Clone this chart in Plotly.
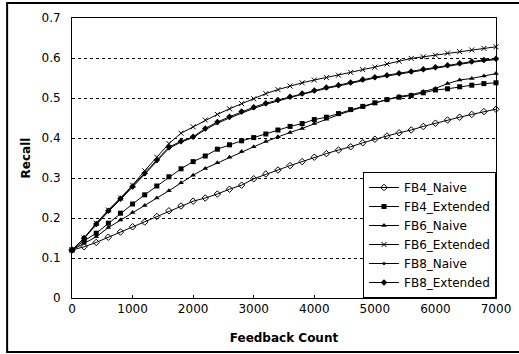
import plotly.graph_objects as go

# Feedback counts at which recall was measured
feedback_count = [0, 200, 400, 600, 800, 1000, 1200, 1400, 1600, 1800,
                  2000, 2200, 2400, 2600, 2800, 3000, 3200, 3400, 3600, 3800,
                  4000, 4200, 4400, 4600, 4800, 5000, 5200, 5400, 5600, 5800,
                  6000, 6200, 6400, 6600, 6800, 7000]

fb4_naive = [0.120, 0.128, 0.139, 0.152, 0.165, 0.178, 0.190, 0.204, 0.218, 0.230,
             0.242, 0.250, 0.260, 0.272, 0.282, 0.298, 0.310, 0.320, 0.331, 0.341,
             0.352, 0.361, 0.370, 0.378, 0.388, 0.397, 0.405, 0.413, 0.420, 0.429,
             0.437, 0.445, 0.452, 0.459, 0.466, 0.472]

fb4_extended = [0.120, 0.143, 0.162, 0.187, 0.212, 0.235, 0.258, 0.280, 0.303, 0.323,
                0.341, 0.355, 0.372, 0.383, 0.393, 0.401, 0.410, 0.420, 0.429, 0.436,
                0.446, 0.452, 0.461, 0.471, 0.479, 0.488, 0.496, 0.502, 0.506, 0.513,
                0.520, 0.523, 0.528, 0.532, 0.536, 0.538]

fb6_naive = [0.120, 0.137, 0.153, 0.176, 0.195, 0.214, 0.231, 0.250, 0.268, 0.288,
             0.307, 0.324, 0.338, 0.352, 0.366, 0.378, 0.391, 0.403, 0.414, 0.424,
             0.436, 0.447, 0.458, 0.468, 0.478, 0.487, 0.496, 0.504, 0.508, 0.516,
             0.524, 0.536, 0.545, 0.549, 0.555, 0.561]

fb6_extended = [0.120, 0.150, 0.187, 0.220, 0.250, 0.282, 0.318, 0.352, 0.386, 0.412,
                0.428, 0.445, 0.459, 0.473, 0.486, 0.498, 0.511, 0.521, 0.530, 0.538,
                0.545, 0.551, 0.557, 0.564, 0.571, 0.577, 0.585, 0.592, 0.599, 0.603,
                0.607, 0.612, 0.616, 0.620, 0.624, 0.628]

fb8_naive = [0.120, 0.149, 0.183, 0.216, 0.246, 0.277, 0.309, 0.342, 0.374, 0.390,
             0.401, 0.421, 0.437, 0.450, 0.463, 0.474, 0.484, 0.493, 0.501, 0.509,
             0.517, 0.524, 0.530, 0.537, 0.544, 0.550, 0.555, 0.560, 0.564, 0.570,
             0.575, 0.580, 0.585, 0.589, 0.593, 0.596]

fb8_extended = [0.120, 0.150, 0.185, 0.218, 0.248, 0.279, 0.312, 0.345, 0.377, 0.392,
                0.403, 0.424, 0.440, 0.453, 0.466, 0.477, 0.487, 0.495, 0.503, 0.511,
                0.519, 0.526, 0.532, 0.539, 0.546, 0.552, 0.557, 0.562, 0.566, 0.572,
                0.577, 0.582, 0.587, 0.591, 0.595, 0.598]

series = [
    ("FB4_Naive", fb4_naive, dict(symbol="diamond-open", size=5, line=dict(width=1))),
    ("FB4_Extended", fb4_extended, dict(symbol="square", size=5)),
    ("FB6_Naive", fb6_naive, dict(symbol="triangle-up", size=5)),
    ("FB6_Extended", fb6_extended, dict(symbol="x-thin-open", size=5, line=dict(width=1, color="black"))),
    ("FB8_Naive", fb8_naive, dict(symbol="circle", size=3)),
    ("FB8_Extended", fb8_extended, dict(symbol="diamond", size=5)),
]

fig = go.Figure()
for name, values, marker in series:
    marker = dict(marker)
    marker.setdefault("color", "black")
    fig.add_trace(go.Scatter(
        x=feedback_count, y=values, name=name, mode="lines+markers",
        line=dict(color="black", width=1), marker=marker, cliponaxis=False,
    ))

font_family = "DejaVu Sans"

fig.update_layout(
    width=519, height=354,
    margin=dict(l=72, r=23, t=18, b=56),
    paper_bgcolor="white", plot_bgcolor="white",
    font=dict(family=font_family, size=12, color="black"),
    showlegend=True,
    legend=dict(
        x=1, y=0, xanchor="right", yanchor="bottom",
        bgcolor="white", bordercolor="black", borderwidth=1,
        font=dict(family=font_family, size=12, color="black"),
        tracegroupgap=0, itemwidth=30,
    ),
    xaxis=dict(
        range=[0, 7000], tickvals=[0, 1000, 2000, 3000, 4000, 5000, 6000, 7000],
        showgrid=False, zeroline=False, automargin=False,
        showline=True, linecolor="black", linewidth=1, mirror=True,
        ticks="inside", ticklen=3, tickcolor="black",
        tickfont=dict(family=font_family, size=12),
        title=dict(text="<b>Feedback Count</b>", font=dict(family=font_family, size=12), standoff=18),
    ),
    yaxis=dict(
        range=[0, 0.7], tickvals=[0, 0.1, 0.2, 0.3, 0.4, 0.5, 0.6, 0.7],
        ticktext=["0", "0.1", "0.2", "0.3", "0.4", "0.5", "0.6", "0.7"],
        showgrid=True, gridcolor="black", gridwidth=1, griddash="dot",
        zeroline=False, automargin=False,
        showline=True, linecolor="black", linewidth=1, mirror=True,
        ticks="", ticklabelstandoff=8,
        tickfont=dict(family=font_family, size=12),
        title=dict(text="<b>Recall</b>", font=dict(family=font_family, size=12), standoff=8),
    ),
)

# Outer frame around the whole chart (its right side runs past the page edge)
fig.add_shape(
    type="rect", xref="paper", yref="paper",
    x0=-0.153, x1=1.10, y0=-0.193, y1=1.054,
    line=dict(color="black", width=2), fillcolor="rgba(0,0,0,0)", layer="below",
)

fig.write_html("out.html")
